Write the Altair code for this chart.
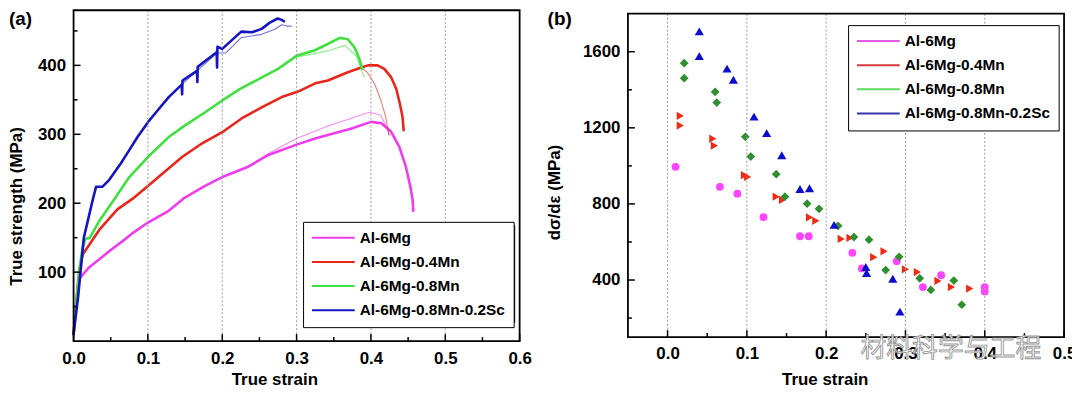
import altair as alt
import pandas as pd

FONT = "Liberation Sans"
CJK = "Noto Sans CJK SC"

alloys = ["Al-6Mg", "Al-6Mg-0.4Mn", "Al-6Mg-0.8Mn", "Al-6Mg-0.8Mn-0.2Sc"]
line_colors = ["#ee3cee", "#e8261c", "#3fe03f", "#1414c4"]
marker_colors = ["#ff44ff", "#f22a14", "#2f8f2f", "#0c0cd0"]
legend_b_colors = ["#e35ce3", "#d83a3a", "#5cd85c", "#3434a8"]
marker_shapes = ["circle", "triangle-right", "diamond", "triangle-up"]
marker_sizes = [62, 85, 66, 85]

# ---------------- panel (a): true stress - true strain ----------------
mg_thick_x = [0, 0.003, 0.006, 0.009, 0.02, 0.035, 0.05, 0.066, 0.08, 0.1, 0.128, 0.148,
              0.175, 0.2, 0.235, 0.262, 0.3, 0.325, 0.342, 0.373, 0.4, 0.414, 0.427, 0.438,
              0.447, 0.453, 0.456, 0.457]
mg_thick_y = [10, 50, 83, 92, 106, 119, 132, 145, 157, 172, 189, 207,
              224, 238, 253, 270, 285, 294, 299, 308, 318, 316, 304, 282,
              253, 224, 205, 189]
mg_thin_x = [0, 0.003, 0.006, 0.009, 0.02, 0.035, 0.05, 0.066, 0.08, 0.1, 0.128, 0.148,
             0.175, 0.2, 0.235, 0.262, 0.3, 0.342, 0.373, 0.398, 0.413, 0.42, 0.425]
mg_thin_y = [10, 50, 83, 92, 106, 119, 132, 145, 157, 172, 189, 207,
             224, 238, 253, 272, 294, 312, 323, 332, 328, 313, 299]

mn4_thick_x = [0, 0.004, 0.008, 0.0125, 0.02, 0.035, 0.059, 0.08, 0.1, 0.146, 0.173, 0.2,
               0.226, 0.253, 0.28, 0.302, 0.325, 0.342, 0.369, 0.387, 0.396, 0.409, 0.418,
               0.427, 0.434, 0.439, 0.4425, 0.444]
mn4_thick_y = [10, 60, 105, 126, 138, 162, 191, 207, 225, 267, 287, 303,
               323, 339, 354, 362, 374, 378, 390, 397, 400, 400, 395,
               383, 366, 344, 325, 306]
mn4_thin_x = [0, 0.004, 0.008, 0.0125, 0.02, 0.035, 0.059, 0.08, 0.1, 0.146, 0.173, 0.2,
              0.226, 0.253, 0.28, 0.302, 0.325, 0.342, 0.369, 0.387, 0.395, 0.405, 0.4135,
              0.42, 0.424]
mn4_thin_y = [10, 60, 105, 126, 138, 162, 191, 207, 225, 267, 287, 303,
              323, 339, 354, 362, 374, 378, 390, 397, 390, 373, 349,
              325, 299]

mn8_thick_x = [0, 0.004, 0.008, 0.012, 0.016, 0.022, 0.035, 0.055, 0.075, 0.1, 0.128, 0.15,
               0.177, 0.2, 0.224, 0.249, 0.275, 0.3, 0.3245, 0.342, 0.358, 0.369, 0.378,
               0.3846, 0.388]
mn8_thick_y = [10, 60, 105, 135, 148, 150, 175, 206, 238, 267, 296, 313,
               332, 349, 366, 380, 395, 414, 422, 431, 440, 438, 426,
               409, 395]
mn8_thin_x = [0, 0.004, 0.008, 0.012, 0.016, 0.022, 0.035, 0.055, 0.075, 0.1, 0.128, 0.15,
              0.177, 0.2, 0.224, 0.249, 0.275, 0.3, 0.342, 0.365, 0.38, 0.391]
mn8_thin_y = [10, 60, 105, 135, 148, 150, 175, 206, 238, 267, 296, 313,
              332, 349, 366, 380, 395, 412, 421, 429, 414, 383]

sc_thick_x = [0, 0.006, 0.0138, 0.026, 0.0303, 0.039, 0.048, 0.0637, 0.0749, 0.086, 0.1003,
              0.111, 0.128, 0.1455, 0.146, 0.1465, 0.166, 0.1665, 0.167, 0.1925, 0.193,
              0.1935, 0.2, 0.2255, 0.24, 0.253, 0.264, 0.2745, 0.28, 0.283]
sc_thick_y = [10, 63, 150, 206, 224, 224, 234, 258, 277, 296, 318,
              332, 354, 372, 358, 378, 392, 376, 398, 419, 397,
              427, 424, 449, 448, 453, 462, 468, 466, 464]
sc_thin_x = [0, 0.006, 0.0138, 0.026, 0.0303, 0.039, 0.048, 0.0637, 0.0749, 0.086, 0.1003,
             0.111, 0.128, 0.146, 0.166, 0.193, 0.205, 0.225, 0.253, 0.27, 0.28, 0.287, 0.293]
sc_thin_y = [10, 63, 150, 206, 224, 224, 234, 258, 277, 296, 318,
             332, 354, 373, 392, 418, 418, 440, 445, 452, 459, 457, 457]

curves = [
    ("Al-6Mg", "thin", mg_thin_x, mg_thin_y),
    ("Al-6Mg", "thick", mg_thick_x, mg_thick_y),
    ("Al-6Mg-0.4Mn", "thin", mn4_thin_x, mn4_thin_y),
    ("Al-6Mg-0.4Mn", "thick", mn4_thick_x, mn4_thick_y),
    ("Al-6Mg-0.8Mn", "thin", mn8_thin_x, mn8_thin_y),
    ("Al-6Mg-0.8Mn", "thick", mn8_thick_x, mn8_thick_y),
    ("Al-6Mg-0.8Mn-0.2Sc", "thin", sc_thin_x, sc_thin_y),
    ("Al-6Mg-0.8Mn-0.2Sc", "thick", sc_thick_x, sc_thick_y),
]
rows = []
for alloy, test, xs, ys in curves:
    for i, (xv, yv) in enumerate(zip(xs, ys)):
        rows.append(dict(x=xv, y=yv, alloy=alloy, test=test, key=alloy + "|" + test, order=i))
df_a = pd.DataFrame(rows)

# ---------------- panel (b): work hardening rate ----------------
b_mg_x = [0.010, 0.066, 0.088, 0.121, 0.167, 0.178, 0.233, 0.245, 0.289, 0.322, 0.345, 0.400, 0.400]
b_mg_y = [995, 890, 854, 731, 630, 630, 543, 461, 499, 363, 425, 362, 340]
b_mn4_x = [0.016, 0.016, 0.057, 0.059, 0.097, 0.101, 0.137, 0.145, 0.179, 0.187, 0.219, 0.230,
           0.260, 0.273, 0.300, 0.315, 0.341, 0.358, 0.381]
b_mn4_y = [1263, 1212, 1143, 1106, 951, 942, 838, 821, 729, 711, 616, 621,
           520, 551, 456, 442, 395, 363, 355]
b_mn8_x = [0.021, 0.021, 0.060, 0.062, 0.098, 0.105, 0.137, 0.148, 0.176, 0.191, 0.215, 0.235,
           0.254, 0.275, 0.292, 0.318, 0.332, 0.361, 0.371]
b_mn8_y = [1540, 1461, 1389, 1333, 1153, 1049, 956, 838, 801, 774, 685, 626,
           612, 452, 522, 409, 348, 397, 270]
b_sc_x = [0.040, 0.040, 0.075, 0.083, 0.109, 0.125, 0.144, 0.167, 0.179, 0.210, 0.250, 0.251,
          0.284, 0.293]
b_sc_y = [1707, 1577, 1511, 1453, 1259, 1172, 1056, 878, 882, 690, 468, 437, 407, 234]

rows = []
for alloy, xs, ys in [(alloys[0], b_mg_x, b_mg_y), (alloys[1], b_mn4_x, b_mn4_y),
                      (alloys[2], b_mn8_x, b_mn8_y), (alloys[3], b_sc_x, b_sc_y)]:
    for xv, yv in zip(xs, ys):
        rows.append(dict(x=xv, y=yv, alloy=alloy))
df_b = pd.DataFrame(rows)

# ticks / grid
a_xmajor = [0.0, 0.1, 0.2, 0.3, 0.4, 0.5, 0.6]
a_xminor = [0.05, 0.15, 0.25, 0.35, 0.45, 0.55]
a_ymajor = [100, 200, 300, 400]
a_yminor = [50, 150, 250, 350, 450]
a_grid = [0.1, 0.2, 0.3, 0.4, 0.5]
b_xmajor = [0.0, 0.1, 0.2, 0.3, 0.4, 0.5]
b_xminor = [0.05, 0.15, 0.25, 0.35, 0.45]
b_ymajor = [400, 800, 1200, 1600]
b_yminor = [200, 600, 1000, 1400]
b_grid = [0.0, 0.1, 0.2, 0.3, 0.4]

WA, HA = 449, 333
WB, HB = 439, 329
B_TOP = 3.5

xa = alt.Scale(domain=[0, 0.6], nice=False, zero=False)
ya = alt.Scale(domain=[0, 480], nice=False, zero=False)
xb = alt.Scale(domain=[-0.05, 0.5], nice=False, zero=False)
yb = alt.Scale(domain=[100, 1818], nice=False, zero=False)

one = pd.DataFrame({"k": [0]})
legend_df = pd.DataFrame({"alloy": alloys})


def x_axis(vals, tx, ty, pad):
    return alt.Axis(orient="bottom", values=vals, format=".1f", title="True strain",
                    titleX=tx, titleY=ty, titleAlign="left", titleBaseline="alphabetic",
                    labelPadding=pad, ticks=False, tickSize=0, domain=False, grid=False,
                    labelOverlap=False, labelFlush=False)


def y_axis(vals, title, tx, ty, pad):
    return alt.Axis(orient="left", values=vals, format="d", title=title, titleX=tx, titleY=ty,
                    titleAngle=270, titleAlign="center", titleBaseline="middle",
                    labelPadding=pad, ticks=False, tickSize=0, domain=False, grid=False,
                    labelOverlap=False, labelFlush=False)


AX_A_X = x_axis(a_xmajor, 158.7, 44, 10)
AX_A_Y = y_axis(a_ymajor, "True strength (MPa)", -57.5, 197, 8)
AX_B_X = x_axis(b_xmajor, 154.7, 48, 9)
AX_B_Y = y_axis(b_ymajor, "dσ/dε (MPa)", -73.7, 183, 8)


def xticks(vals, scale, axis, h, length):
    return alt.Chart(pd.DataFrame({"x": vals})).mark_rule(color="black", strokeWidth=1.5).encode(
        x=alt.X("x:Q", scale=scale, axis=axis), y=alt.value(h - length), y2=alt.value(h))


def yticks(vals, scale, axis, length):
    return alt.Chart(pd.DataFrame({"y": vals})).mark_rule(color="black", strokeWidth=1.5).encode(
        y=alt.Y("y:Q", scale=scale, axis=axis), x=alt.value(0), x2=alt.value(length))


def grid(vals, scale, axis, top, h):
    return alt.Chart(pd.DataFrame({"x": vals})).mark_rule(
        color="#9a9a9a", strokeWidth=1, strokeDash=[2, 2]).encode(
        x=alt.X("x:Q", scale=scale, axis=axis), y=alt.value(top), y2=alt.value(h))


def frame(w, top, h):
    return alt.Chart(one).mark_rect(filled=False, stroke="black", strokeWidth=1.8).encode(
        x=alt.value(0), x2=alt.value(w), y=alt.value(top), y2=alt.value(h))


def shadow(x0, y0, w, h, d=3.5):
    return alt.Chart(one).mark_rect(color="black").encode(
        x=alt.value(x0 + d), x2=alt.value(x0 + w + d), y=alt.value(y0 + d), y2=alt.value(y0 + h + d))


def label(txt, x, y):
    return alt.Chart(one).mark_text(text=txt, font=FONT, fontSize=19, fontWeight="bold",
                                    color="black", baseline="top").encode(
        x=alt.value(x), y=alt.value(y))


def legend(lx, ly):
    return alt.Legend(orient="none", legendX=lx, legendY=ly, title=None, symbolType="stroke",
                      symbolSize=1849, symbolStrokeWidth=2, symbolOpacity=1, clipHeight=16,
                      rowPadding=7.3, padding=8, labelFont=FONT, labelFontSize=15.5,
                      labelFontWeight="bold", labelColor="black", labelOffset=4, labelLimit=300,
                      strokeColor="black", fillColor="white")


# panel (a)
LAX, LAY, LAW, LAH = 231, 213, 210, 98
lines = alt.Chart(df_a).mark_line(strokeJoin="round", strokeCap="round").encode(
    x=alt.X("x:Q", scale=xa, axis=AX_A_X),
    y=alt.Y("y:Q", scale=ya, axis=AX_A_Y),
    color=alt.Color("alloy:N", scale=alt.Scale(domain=alloys, range=line_colors),
                    legend=legend(LAX, LAY)),
    detail="key:N",
    strokeWidth=alt.StrokeWidth("test:N", scale=alt.Scale(domain=["thick", "thin"], range=[2.6, 1.1]),
                                legend=None),
    opacity=alt.Opacity("test:N", scale=alt.Scale(domain=["thick", "thin"], range=[1.0, 0.6]),
                        legend=None),
    order="order:Q",
)
panel_a = alt.layer(
    lines,
    grid(a_grid, xa, AX_A_X, 0, HA),
    xticks(a_xmajor, xa, AX_A_X, HA, 7), xticks(a_xminor, xa, AX_A_X, HA, 4),
    yticks(a_ymajor, ya, AX_A_Y, 7), yticks(a_yminor, ya, AX_A_Y, 4),
    frame(WA, 0, HA),
    shadow(LAX, LAY, LAW, LAH),
    label("(a)", -53.5, 0),
).properties(width=WA, height=HA)

# panel (b)  (marker scales take their domain from the data, sorted like `alloys`)
LBX, LBY, LBW, LBH = 221.6, 15, 206.5, 94.3
points = alt.Chart(df_b).mark_point(filled=True, opacity=1, strokeWidth=0).encode(
    x=alt.X("x:Q", scale=xb, axis=AX_B_X),
    y=alt.Y("y:Q", scale=yb, axis=AX_B_Y),
    fill=alt.Fill("alloy:N", scale=alt.Scale(range=marker_colors), legend=None),
    shape=alt.Shape("alloy:N", scale=alt.Scale(range=marker_shapes), legend=None),
    size=alt.Size("alloy:N", scale=alt.Scale(range=marker_sizes), legend=None),
)
legend_lines = alt.Chart(legend_df).mark_line().encode(
    x=alt.value(0), y=alt.value(0),
    color=alt.Color("alloy:N", scale=alt.Scale(domain=alloys, range=legend_b_colors),
                    legend=legend(LBX, LBY)),
)
watermark = alt.Chart(one).mark_text(
    text="材料科学与工程", font=CJK, fontSize=26, fill="white", stroke="#8c8c8c",
    strokeWidth=0.9, opacity=0.9).encode(x=alt.value(325), y=alt.value(341))

panel_b = alt.layer(
    points,
    legend_lines,
    grid(b_grid, xb, AX_B_X, B_TOP, HB),
    xticks(b_xmajor, xb, AX_B_X, HB, 7), xticks(b_xminor, xb, AX_B_X, HB, 4),
    yticks(b_ymajor, yb, AX_B_Y, 7), yticks(b_yminor, yb, AX_B_Y, 4),
    frame(WB, B_TOP, HB),
    shadow(LBX, LBY, LBW, LBH, 3),
    label("(b)", -68.7, 0),
    watermark,
).properties(width=WB, height=HB)

chart = alt.hconcat(panel_a, panel_b, spacing=109, bounds="flush").resolve_scale(
    color="independent", fill="independent", shape="independent", size="independent",
    strokeWidth="independent", opacity="independent",
).resolve_legend(
    color="independent", fill="independent", shape="independent", size="independent",
    strokeWidth="independent", opacity="independent",
).properties(
    autosize=alt.AutoSizeParams(type="none"),
    padding={"left": 66, "top": 1, "right": 1005, "bottom": 381},
).configure_view(stroke=None).configure_axis(
    labelFont=FONT, labelFontSize=17, labelFontWeight="bold", labelColor="black",
    titleFont=FONT, titleFontSize=17, titleFontWeight="bold", titleColor="black",
)

chart.save("out.html", embed_options={"renderer": "svg", "actions": False})
